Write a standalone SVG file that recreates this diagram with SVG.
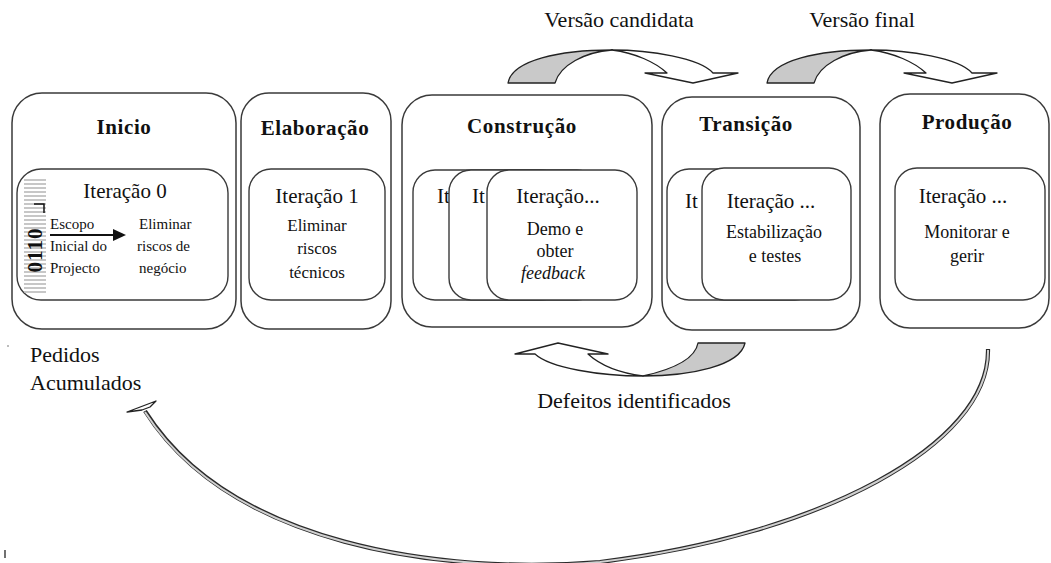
<svg xmlns="http://www.w3.org/2000/svg" width="1051" height="563" viewBox="0 0 1051 563">
<defs>
<style>
text{font-family:"Liberation Serif","Times New Roman",serif;fill:#111}
.title{font-size:21px;font-weight:bold;letter-spacing:0.6px;text-anchor:middle}
.iter{font-size:21px}
.desc{font-size:18px;text-anchor:middle}
.small{font-size:15px}
.lbl{font-size:22px}
.outer{fill:#fff;stroke:#3a3a3a;stroke-width:1.5}
.inner{fill:#fff;stroke:#3a3a3a;stroke-width:1.4}
.gray{fill:#c9c9c9;stroke:#222;stroke-width:1.3;stroke-linejoin:round}
.white{fill:#fff;stroke:#222;stroke-width:1.3;stroke-linejoin:round}
.bar{stroke:#b5b5b5;stroke-width:1.6}
</style>
</defs>
<rect width="1051" height="563" fill="#fff"/>

<g id="inicio">
<rect class="outer" x="12" y="93" width="224" height="236" rx="30"/>
<text class="title" x="124" y="134">Inicio</text>
<rect class="inner" x="17" y="169" width="211" height="131" rx="24"/>
<g id="barcode">
<path class="bar" d="M24,180h22M24,184h22M24,188h22M24,192h22M24,196h22M24,200h22M24,204h22M24,208h22M24,212h22M24,216h22M24,220h22M24,224h22M24,228h22M24,232h22M24,236h22M24,240h22M24,244h22M24,248h22M24,252h22M24,256h22M24,260h22M24,264h22M24,268h22M24,272h22M24,276h22M24,280h22M24,284h22M24,288h22M24,292h22"/>
<path d="M34,204h10v9" fill="none" stroke="#111" stroke-width="1.5"/>
<text x="42" y="250" transform="rotate(-90 42 250)" style="font-size:21px;font-weight:bold;text-anchor:middle;letter-spacing:1px">0110</text>
</g>
<text class="iter" x="125" y="198" text-anchor="middle">Iteração 0</text>
<text class="small" x="50" y="229">Escopo</text>
<text class="small" x="50" y="251">Inicial do</text>
<text class="small" x="50" y="273">Projecto</text>
<line x1="50" y1="235" x2="115" y2="235" stroke="#111" stroke-width="2"/>
<polygon points="113,229 126,235 113,241" fill="#111"/>
<text class="small" x="139" y="229">Eliminar</text>
<text class="small" x="137" y="251">riscos de</text>
<text class="small" x="139" y="273">negócio</text>
</g>

<g id="elaboracao">
<rect class="outer" x="241" y="93" width="150" height="236" rx="28"/>
<text class="title" x="315" y="135">Elaboração</text>
<rect class="inner" x="249" y="169" width="136" height="131" rx="22"/>
<text class="iter" x="317" y="203" text-anchor="middle">Iteração 1</text>
<text class="desc" x="317" y="231" style="font-size:17px">Eliminar</text>
<text class="desc" x="317" y="254" style="font-size:17px">riscos</text>
<text class="desc" x="317" y="278" style="font-size:17px">técnicos</text>
</g>

<g id="construcao">
<rect class="outer" x="402" y="95" width="250" height="232" rx="30"/>
<text class="title" x="522" y="133">Construção</text>
<rect class="inner" x="413" y="170" width="150" height="130" rx="22"/>
<text class="iter" x="437" y="203">It</text>
<rect class="inner" x="449" y="170" width="150" height="130" rx="22"/>
<text class="iter" x="472" y="203">It</text>
<rect class="inner" x="487" y="170" width="150" height="130" rx="22"/>
<text class="iter" x="558" y="203" text-anchor="middle">Iteração...</text>
<text class="desc" x="555" y="235">Demo e</text>
<text class="desc" x="555" y="257">obter</text>
<text class="desc" x="553" y="279" font-style="italic">feedback</text>
</g>

<g id="transicao">
<rect class="outer" x="662" y="97" width="198" height="233" rx="30"/>
<text class="title" x="746" y="131">Transição</text>
<rect class="inner" x="667" y="169" width="150" height="131" rx="22"/>
<text class="iter" x="685" y="208">It</text>
<rect class="inner" x="702" y="168" width="149" height="132" rx="22"/>
<text class="iter" x="771" y="208" text-anchor="middle">Iteração ...</text>
<text class="desc" x="774" y="238">Estabilização</text>
<text class="desc" x="775" y="262">e testes</text>
</g>

<g id="producao">
<rect class="outer" x="880" y="94" width="169" height="234" rx="30"/>
<text class="title" x="967" y="129">Produção</text>
<rect class="inner" x="895" y="168" width="150" height="132" rx="22"/>
<text class="iter" x="963" y="203" text-anchor="middle">Iteração ...</text>
<text class="desc" x="967" y="238">Monitorar e</text>
<text class="desc" x="967" y="262">gerir</text>
</g>

<g id="pedidos">
<text class="lbl" x="30" y="362">Pedidos</text>
<text class="lbl" x="30" y="390">Acumulados</text>
</g>

<g id="connectors">
<g id="versao-candidata">
<path class="gray" d="M508,83 C512,60 560,50 612,50 C585,52 560,65 555,83 Z"/>
<path class="white" d="M612,50 C650,50 700,58 713,73 L738,73 L693,83 L645,73 L667,73 C655,62 635,53 612,50 Z"/>
<text class="lbl" x="619" y="27" text-anchor="middle">Versão candidata</text>
</g>
<g id="versao-final">
<path class="gray" d="M767,83 C771,60 819,50 871,50 C844,52 819,65 814,83 Z"/>
<path class="white" d="M871,50 C909,50 959,58 972,73 L997,73 L952,83 L904,73 L926,73 C914,62 894,53 871,50 Z"/>
<text class="lbl" x="862" y="27" text-anchor="middle">Versão final</text>
</g>
<g id="defeitos">
<path class="gray" d="M745,343 C740,366 690,376 643,376 C670,370 695,360 698,343 Z"/>
<path class="white" d="M643,376 C600,376 550,368 535,354 L515,354 L558,343 L608,354 L588,354 C600,365 620,373 643,376 Z"/>
<text class="lbl" x="634" y="408" text-anchor="middle">Defeitos identificados</text>
</g>
<g id="retorno">
<path d="M988,349 C990,445 820,535 600,562 C440,575 230,545 145,411" fill="none" stroke="#2a2a2a" stroke-width="4.2"/>
<path d="M988,350 C990,445 820,535 600,562 C440,575 230,545 145,412" fill="none" stroke="#d0d0d0" stroke-width="2"/>
<polygon points="127,412 156,401 150,407 142,410" fill="#fff" stroke="#222" stroke-width="1.3" stroke-linejoin="round"/>
</g>
</g>

<g id="marks">
<circle cx="8" cy="346" r="0.8" fill="#666"/>
<line x1="5" y1="550" x2="5" y2="558" stroke="#111" stroke-width="1.2"/>
</g>
</svg>
